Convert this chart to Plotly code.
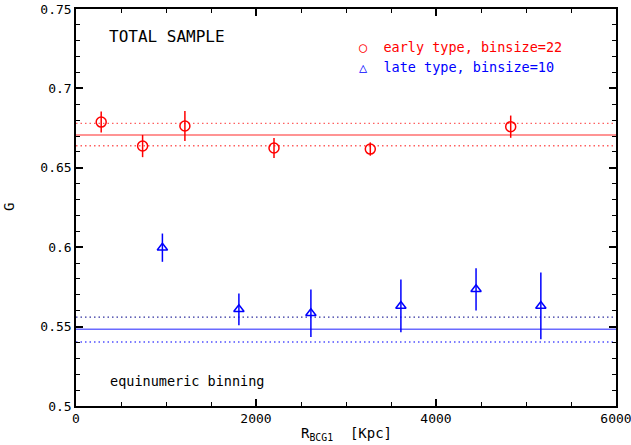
import plotly.graph_objects as go

# early type
early_x = [280, 740, 1210, 2200, 3270, 4830]
early_g = [0.6788, 0.6637, 0.6763, 0.6625, 0.6618, 0.6759]
early_err = [0.0066, 0.0070, 0.0095, 0.0063, 0.0042, 0.0070]
early_mean = 0.6707
early_band = [0.6780, 0.6639]

# late type
late_x = [960, 1810, 2610, 3610, 4445, 5165]
late_g = [0.5997, 0.5609, 0.5584, 0.5630, 0.5735, 0.5630]
late_err = [0.0089, 0.0100, 0.0150, 0.0166, 0.0133, 0.0210]
late_mean = 0.5483
late_band = [0.5560, 0.5403]

XMIN, XMAX = 0, 6000
YMIN, YMAX = 0.5, 0.75

RED = "#ff0000"
BLUE = "#0000ff"
FONT = "DejaVu Sans Mono"
DOT = "1.5px,3px"

fig = go.Figure()

# horizontal reference lines
fig.add_trace(go.Scatter(x=[XMIN, XMAX], y=[early_mean] * 2, mode="lines",
                         line=dict(color="#ff7070", width=1.5), showlegend=False, hoverinfo="skip"))
for v in early_band:
    fig.add_trace(go.Scatter(x=[XMIN, XMAX], y=[v, v], mode="lines",
                             line=dict(color="#ff6060", width=1.3, dash=DOT), showlegend=False, hoverinfo="skip"))
fig.add_trace(go.Scatter(x=[XMIN, XMAX], y=[late_mean] * 2, mode="lines",
                         line=dict(color="#6a6aff", width=1.5), showlegend=False, hoverinfo="skip"))
fig.add_trace(go.Scatter(x=[XMIN, XMAX], y=[late_band[0]] * 2, mode="lines",
                         line=dict(color="#3030a0", width=1.3, dash=DOT), showlegend=False, hoverinfo="skip"))
fig.add_trace(go.Scatter(x=[XMIN, XMAX], y=[late_band[1]] * 2, mode="lines",
                         line=dict(color="#5050ff", width=1.3, dash=DOT), showlegend=False, hoverinfo="skip"))

fig.add_trace(go.Scatter(
    x=early_x, y=early_g, mode="markers",
    marker=dict(symbol="circle-open", size=10, color=RED, line=dict(width=1.5, color=RED)),
    error_y=dict(type="data", array=early_err, color=RED, thickness=1.5, width=0),
    showlegend=False))
fig.add_trace(go.Scatter(
    x=late_x, y=late_g, mode="markers",
    marker=dict(symbol="triangle-up-open", size=9, color=BLUE, line=dict(width=1.5, color=BLUE)),
    error_y=dict(type="data", array=late_err, color=BLUE, thickness=1.5, width=0),
    showlegend=False))

axis_common = dict(showline=True, linecolor="black", linewidth=1.5, mirror="allticks",
                   ticks="inside", ticklen=7, tickwidth=1.5, tickcolor="black",
                   showgrid=False, zeroline=False, automargin=False,
                   ticklabeloverflow="allow",
                   tickfont=dict(family=FONT, size=13, color="black"))

fig.update_xaxes(range=[XMIN, XMAX], dtick=2000, tick0=0,
                 minor=dict(dtick=500, ticks="inside", ticklen=4, tickwidth=1, tickcolor="black"),
                 **axis_common)
fig.update_yaxes(range=[YMIN, YMAX], dtick=0.05, tick0=0.5,
                 minor=dict(dtick=0.01, ticks="inside", ticklen=4, tickwidth=1, tickcolor="black"),
                 **axis_common)

# axis titles as annotations
fig.add_annotation(x=0.5, y=-0.097, xref="paper", yref="paper",
                   text="R<sub>BCG1</sub>  [Kpc]", showarrow=False,
                   xanchor="center", yanchor="bottom",
                   font=dict(family=FONT, size=14, color="black"))
fig.add_annotation(x=-0.125, y=0.5, xref="paper", yref="paper", text="G", textangle=-90,
                   showarrow=False, xanchor="center", yanchor="middle",
                   font=dict(family=FONT, size=14, color="black"))

fig.add_annotation(x=0.058, y=0.93, xref="paper", yref="paper", text="TOTAL SAMPLE",
                   showarrow=False, xanchor="left", yanchor="middle",
                   font=dict(family=FONT, size=16, color="black"))
fig.add_annotation(x=0.52, y=0.905, xref="paper", yref="paper", text="○  early type, binsize=22",
                   showarrow=False, xanchor="left", yanchor="middle",
                   font=dict(family=FONT, size=13.5, color=RED))
fig.add_annotation(x=0.52, y=0.855, xref="paper", yref="paper", text="△  late type, binsize=10",
                   showarrow=False, xanchor="left", yanchor="middle",
                   font=dict(family=FONT, size=13.5, color=BLUE))
fig.add_annotation(x=0.06, y=0.063, xref="paper", yref="paper", text="equinumeric binning",
                   showarrow=False, xanchor="left", yanchor="middle",
                   font=dict(family=FONT, size=13.5, color="black"))

fig.update_layout(width=631, height=445, margin=dict(l=76, r=15, t=9, b=39),
                  paper_bgcolor="white", plot_bgcolor="white", showlegend=False)

fig.write_html("out.html", config={"displayModeBar": False},
               post_script="document.body.style.margin='0';document.body.style.overflow='hidden';")
